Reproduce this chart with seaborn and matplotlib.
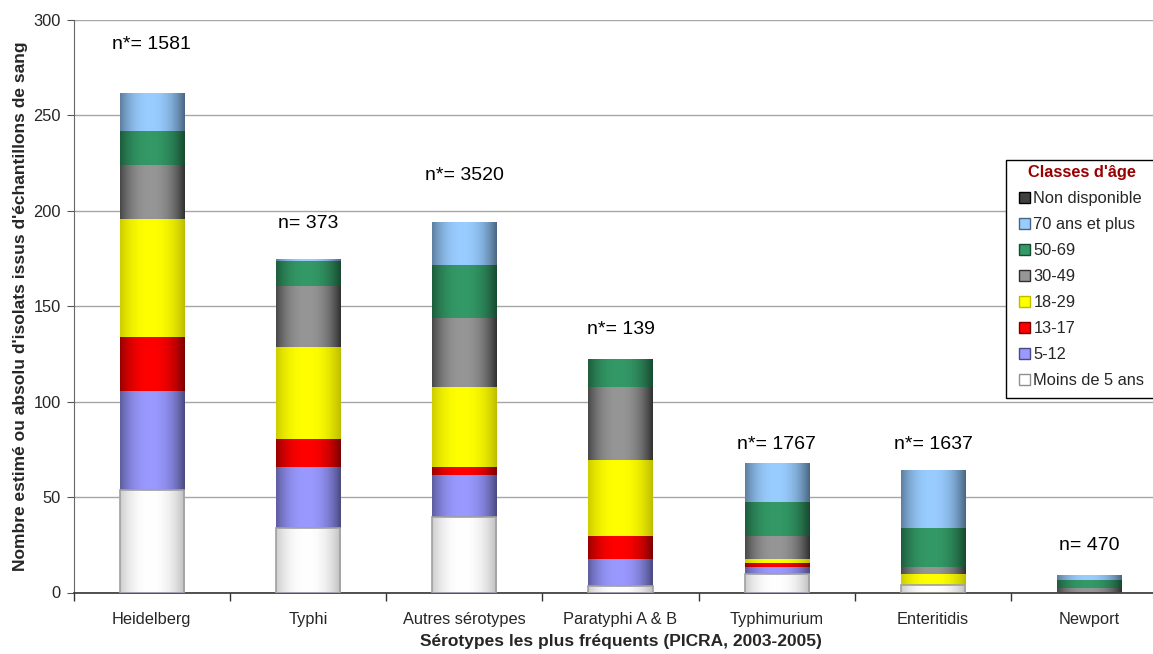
import numpy as np
import pandas as pd
import matplotlib
matplotlib.use("Agg")
import matplotlib.pyplot as plt
import seaborn as sns
from matplotlib.patches import Patch, Rectangle
from matplotlib.colors import to_rgb

# Serotypes (x categories)
categories = ["Heidelberg", "Typhi", "Autres sérotypes", "Paratyphi A & B",
              "Typhimurium", "Enteritidis", "Newport"]

# Estimated or absolute number of blood isolates by age class
moins_5 = [53.7, 33.8, 39.5, 3.4, 9.7, 3.9, 0.0]
ans_5_12 = [51.8, 31.9, 22.0, 14.1, 3.7, 0.0, 0.0]
ans_13_17 = [28.3, 14.7, 4.2, 12.1, 2.0, 0.0, 0.0]
ans_18_29 = [61.7, 48.1, 41.9, 39.8, 2.1, 5.8, 0.0]
ans_30_49 = [28.3, 32.0, 36.3, 38.2, 12.1, 3.7, 2.4]
ans_50_69 = [17.8, 13.1, 27.6, 14.7, 17.8, 20.4, 4.1]
ans_70_plus = [20.4, 1.4, 22.5, 0.0, 20.4, 30.3, 2.7]
non_disponible = [0.0, 0.0, 0.0, 0.0, 0.0, 0.0, 0.0]

# Sample sizes written above each bar
n_labels = ["n*= 1581", "n= 373", "n*= 3520", "n*= 139", "n*= 1767", "n*= 1637", "n= 470"]
n_label_y = [284.8, 191.0, 216.0, 135.6, 75.3, 75.3, 22.1]

age_classes = ["Moins de 5 ans", "5-12", "13-17", "18-29", "30-49", "50-69",
               "70 ans et plus", "Non disponible"]
series = [moins_5, ans_5_12, ans_13_17, ans_18_29, ans_30_49, ans_50_69,
          ans_70_plus, non_disponible]

# (centre colour, edge colour) of the cylinder shading for each class
shades = {
    "Moins de 5 ans": ("#FFFFFF", "#BEBEBE"),
    "5-12": ("#9999FF", "#4A4A80"),
    "13-17": ("#FF0000", "#7A0000"),
    "18-29": ("#FFFF00", "#BDBD00"),
    "30-49": ("#969696", "#303030"),
    "50-69": ("#339966", "#174A30"),
    "70 ans et plus": ("#99CCFF", "#4A6680"),
    "Non disponible": ("#404040", "#000000"),
}


def gradient_row(center, edge, n=96):
    x = np.linspace(0, 1, n)
    w = np.clip(1 - (np.abs(x - 0.47) / 0.53) ** 2.3, 0, 1)
    c = np.array(to_rgb(center))
    e = np.array(to_rgb(edge))
    return (e[None, :] + (c - e)[None, :] * w[:, None])[None, :, :]


sns.set_style("white")
plt.rcParams["font.family"] = ["Liberation Sans", "DejaVu Sans"]

W, H = 1153, 654
fig = plt.figure(figsize=(W / 100, H / 100), dpi=100)
ax = fig.add_axes([73.5 / W, 61.5 / H, 1094 / W, 572.5 / H])

values = np.array(series)
cumulative = np.cumsum(values, axis=0)
bar_width = 0.41

# Stack by overdrawing cumulative totals, from the top class down
for k in reversed(range(len(age_classes))):
    name = age_classes[k]
    center, edge = shades[name]
    df = pd.DataFrame({"serotype": categories, "value": cumulative[k]})
    start = len(ax.patches)
    sns.barplot(data=df, x="serotype", y="value", order=categories,
                color=center, saturation=1, width=bar_width,
                errorbar=None, ax=ax)
    z = 2 + (len(age_classes) - k) * 0.1
    grad = gradient_row(center, edge)
    for j, p in enumerate(ax.patches[start:]):
        if values[k][j] <= 0:
            p.set_visible(False)
            continue
        x0, h, w = p.get_x(), p.get_height(), p.get_width()
        im = ax.imshow(grad, extent=[x0, x0 + w, 0, h], aspect="auto",
                       interpolation="bilinear", zorder=z)
        im.set_clip_path(p)
        if name == "Moins de 5 ans":
            p.set_facecolor("none")
            p.set_edgecolor("#A0A0A0")
            p.set_linewidth(1.2)
            p.set_zorder(z + 0.01)
        else:
            p.set_linewidth(0)
            p.set_zorder(z - 0.01)

for j, (lab, yv) in enumerate(zip(n_labels, n_label_y)):
    ax.text(j, yv, lab, ha="center", va="baseline", fontsize=14, color="black")

ax.set_xlim(-0.5, len(categories) - 0.5)
ax.set_ylim(0, 300)
ax.set_yticks(np.arange(0, 301, 50))
ax.set_xticks(range(len(categories)))
ax.set_xticklabels(categories, fontsize=11.8)
ax.set_xticks(np.arange(-0.5, len(categories), 1), minor=True)
ax.tick_params(axis="x", which="major", length=0, pad=14)
ax.tick_params(axis="x", which="minor", length=6, bottom=True, color="#333333", width=1)
ax.tick_params(axis="y", length=5, left=True, color="#555555", labelsize=11.8, pad=4)

ax.yaxis.grid(True, color="#A6A6A6", linewidth=1)
ax.set_axisbelow(True)
for side in ("top", "right"):
    ax.spines[side].set_visible(False)
ax.spines["left"].set_color("#666666")
ax.spines["bottom"].set_color("#333333")
ax.spines["bottom"].set_linewidth(1.2)

ax.set_xlabel("Sérotypes les plus fréquents (PICRA, 2003-2005)", fontsize=12.5,
              fontweight="bold", labelpad=5)
ax.set_ylabel("Nombre estimé ou absolu d'isolats issus d'échantillons de sang",
              fontsize=12.5, fontweight="bold", labelpad=4)

# Legend: a white box running off the right edge, entries inside it
box = Rectangle((1005.7 / W, 1 - 398 / H), (1190 - 1005.7) / W, (398 - 160) / H,
                transform=fig.transFigure, facecolor="white", edgecolor="black",
                linewidth=1, clip_on=False, zorder=9)
ax.add_artist(box)

legend_order = ["Non disponible", "70 ans et plus", "50-69", "30-49", "18-29",
                "13-17", "5-12", "Moins de 5 ans"]
handles = []
for name in legend_order:
    center, edge = shades[name]
    ec = "#909090" if name == "Moins de 5 ans" else edge
    handles.append(Patch(facecolor=center, edgecolor=ec, linewidth=1, label=name))

leg = ax.legend(handles=handles, title="Classes d'âge", loc="upper left",
                bbox_to_anchor=(1019.3 / W, 1 - 165.5 / H),
                bbox_transform=fig.transFigure, frameon=False, fontsize=11.76,
                title_fontproperties={"weight": "bold", "size": 11.76},
                handlelength=0.66, handleheight=0.66, handletextpad=0.2,
                labelspacing=0.67, borderpad=0, borderaxespad=0)
leg.get_title().set_color("#990000")
leg.set_zorder(10)

fig.savefig("out.png", dpi=100)
